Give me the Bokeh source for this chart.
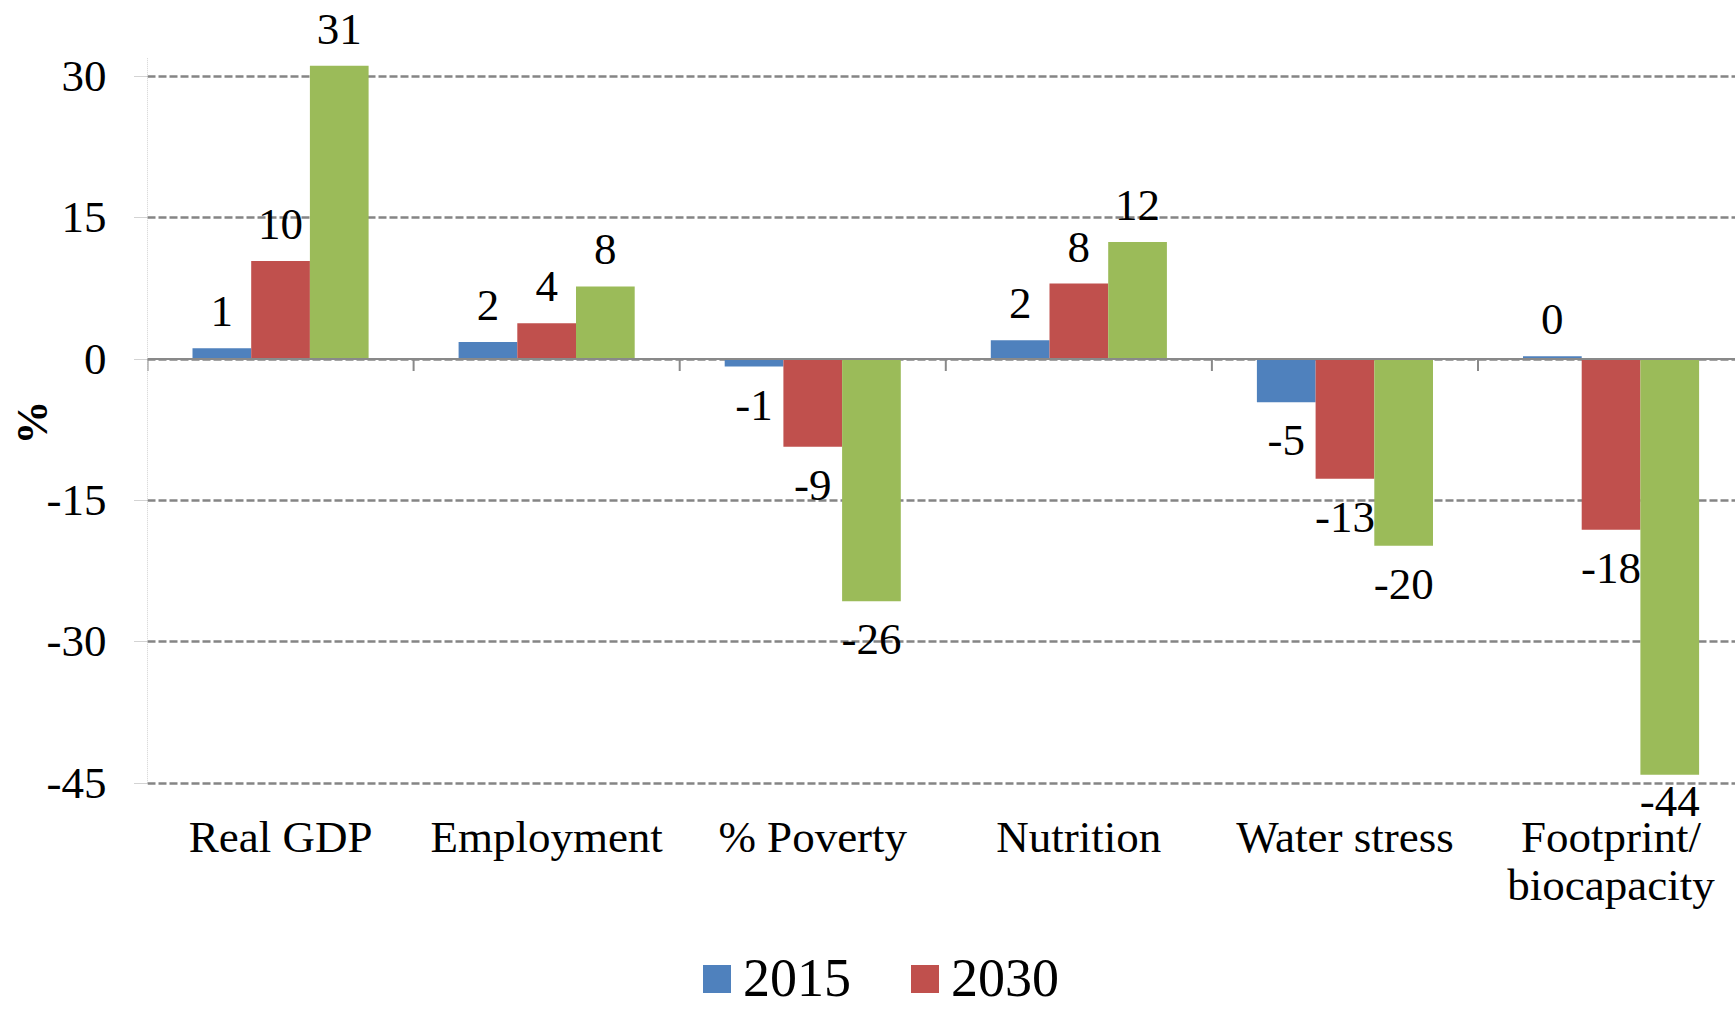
from bokeh.plotting import figure
from bokeh.models import ColumnDataSource, LabelSet, Span, FixedTicker, Legend, LegendItem
from bokeh.core.properties import value
from bokeh.embed import file_html
from bokeh.resources import INLINE

# ---------------- data ----------------
categories = ["Real GDP", "Employment", "% Poverty", "Nutrition", "Water stress", "Footprint/\nbiocapacity"]
series_names = ["2015", "2030", "2050"]
v2015 = [1.15, 1.8, -0.8, 2.0, -4.6, 0.3]
v2030 = [10.4, 3.8, -9.3, 8.0, -12.7, -18.1]
v2050 = [31.1, 7.7, -25.7, 12.4, -19.8, -44.1]
lab2015 = ["1", "2", "-1", "2", "-5", "0"]
lab2030 = ["10", "4", "-9", "8", "-13", "-18"]
lab2050 = ["31", "8", "-26", "12", "-20", "-44"]
yticks = [-45, -30, -15, 0, 15, 30]
ytick_labels = ["-45", "-30", "-15", "0", "15", "30"]
y_axis_min, y_axis_max = -45, 31.93
y_label = "%"

colors = ["#4F81BD", "#C0504D", "#9BBB59"]
FONT = "Liberation Serif"

# ---------------- layout ----------------
W, H = 1735, 1009
BL = 147
frame_w = W - BL
px_per_unit = 9.427
zero_px = 358.5                      # pixel row of y = 0 from the top
y_top = zero_px / px_per_unit
y_bot = -(H - zero_px) / px_per_unit
cat_px = 266.1
x_max = frame_w / cat_px

p = figure(width=W, height=H, x_range=(0, x_max), y_range=(y_bot, y_top),
           output_backend="svg", toolbar_location=None,
           min_border_left=BL, min_border_right=0, min_border_top=0, min_border_bottom=0)
p.outline_line_color = None
p.background_fill_color = "white"
p.border_fill_color = "white"
p.xaxis.visible = False

bar_w = 0.2206
offsets = [-bar_w, 0.0, bar_w]
all_vals = [v2015, v2030, v2050]
all_labs = [lab2015, lab2030, lab2050]
renderers = []
for k, (vals, labs) in enumerate(zip(all_vals, all_labs)):
    xs = [i + 0.5 + offsets[k] for i in range(len(categories))]
    yoff = [22 if v >= 0 else max(-53, (y_axis_min - v) * px_per_unit - 33) for v in vals]
    src = ColumnDataSource(dict(x=xs, top=vals, bottom=[0] * len(vals), text=labs, yoff=yoff))
    r = p.vbar(x="x", top="top", bottom="bottom", width=bar_w, source=src,
               fill_color=colors[k], line_color=None)
    renderers.append(r)
    p.add_layout(LabelSet(x="x", y="top", text="text", source=src, y_offset="yoff",
                          text_align="center", text_baseline="alphabetic",
                          text_font=value(FONT), text_font_size="45px", text_color="black"))

# zero line and category boundary ticks
p.add_layout(Span(location=0, dimension="width", line_color="#898989", line_width=2))
bounds = list(range(len(categories)))
tick_len = 12 / px_per_unit
p.segment(x0=bounds, x1=bounds, y0=[0] * len(bounds), y1=[-tick_len] * len(bounds),
          line_color="#898989", line_width=2)

# vertical axis line (dotted) spanning the value axis
p.segment(x0=[0], x1=[0], y0=[y_axis_min], y1=[y_axis_max],
          line_color="#a6a6a6", line_width=1, line_dash="1 1")

# y axis
p.yaxis.ticker = FixedTicker(ticks=yticks)
p.yaxis.major_label_overrides = {t: s for t, s in zip(yticks, ytick_labels)}
p.yaxis.major_label_text_font = FONT
p.yaxis.major_label_text_font_size = "45px"
p.yaxis.major_label_text_color = "black"
p.yaxis.major_label_standoff = 28
p.yaxis.major_tick_out = 13
p.yaxis.major_tick_in = 0
p.yaxis.major_tick_line_color = "#a6a6a6"
p.yaxis.major_tick_line_dash = "1 1"
p.yaxis.minor_tick_line_color = None
p.yaxis.axis_line_color = None
# label centred on the value axis (-45..32) rather than the whole frame
p.yaxis.axis_label = "\u00a0" * 15 + y_label
p.yaxis.axis_label_text_font = FONT
p.yaxis.axis_label_text_font_size = "44px"
p.yaxis.axis_label_text_font_style = "bold"
p.yaxis.axis_label_text_color = "black"
p.yaxis.axis_label_standoff = -13

p.ygrid.grid_line_color = "#858585"
p.ygrid.grid_line_dash = "8 3"
p.ygrid.grid_line_width = 2.5
p.xgrid.visible = False

# category labels below the value axis minimum
cx, cy, ct, co = [], [], [], []
for i, c in enumerate(categories):
    for j, line in enumerate(c.split("\n")):
        cx.append(i + 0.5)
        cy.append(y_axis_min)
        ct.append(line)
        co.append(-68.5 - 48.5 * j)
csrc = ColumnDataSource(dict(x=cx, y=cy, text=ct, yoff=co))
p.add_layout(LabelSet(x="x", y="y", text="text", source=csrc, y_offset="yoff",
                      text_align="center", text_baseline="alphabetic",
                      text_font=value(FONT), text_font_size="45px", text_color="black"))

# legend (only first two series shown, as in reference)
legend = Legend(items=[LegendItem(label=series_names[0], renderers=[renderers[0]]),
                       LegendItem(label=series_names[1], renderers=[renderers[1]])],
                orientation="horizontal", location=(552, 0),
                glyph_width=35, glyph_height=35, label_standoff=9, spacing=56,
                padding=0, margin=0, border_line_color=None, background_fill_alpha=0,
                label_text_font=FONT, label_text_font_size="54px", label_text_color="black")
p.add_layout(legend, "center")

open("out.html", "w").write(file_html(p, INLINE))
